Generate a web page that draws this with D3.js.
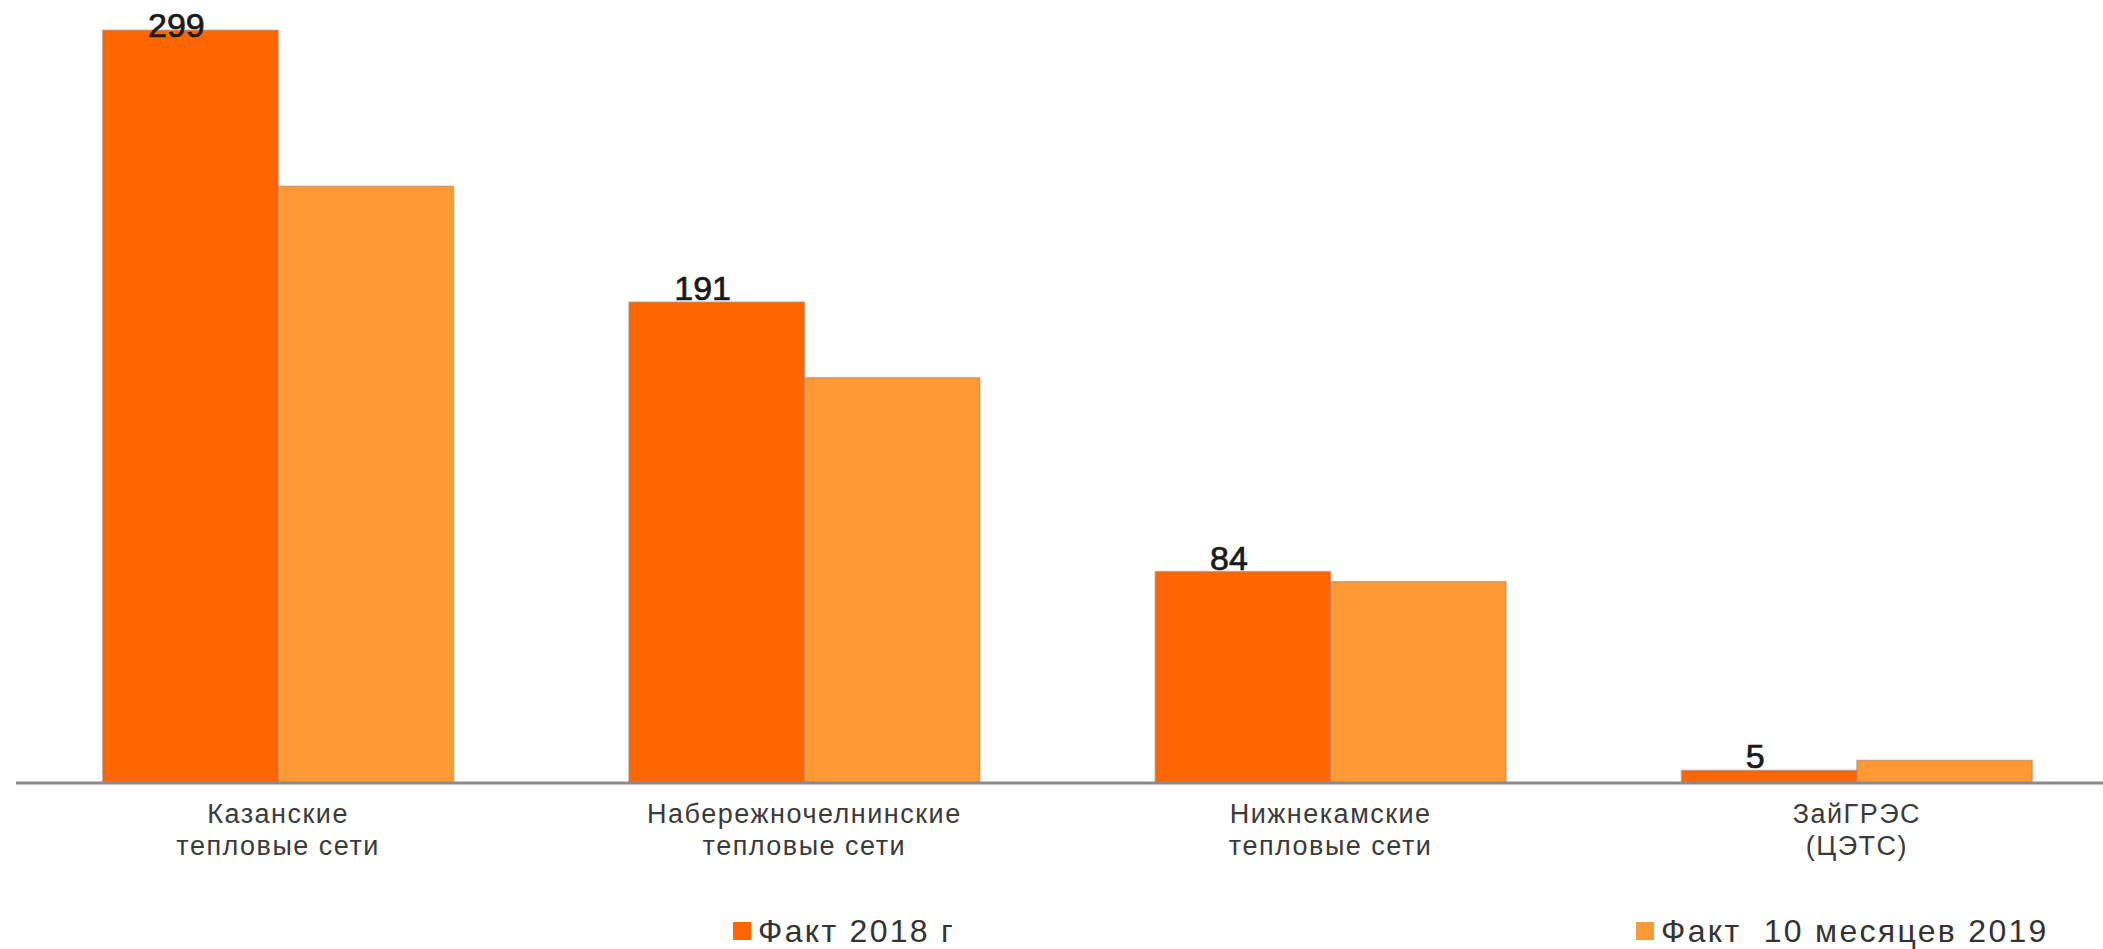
<!DOCTYPE html>
<html>
<head>
<meta charset="utf-8">
<script src="https://cdn.jsdelivr.net/npm/d3@7"></script>
<style>
  html, body { margin: 0; padding: 0; background: #fff; }
  svg { display: block; font-family: "Liberation Sans", Arial, sans-serif; }
  .cat-label { fill: #3a3a3a; font-size: 27px; letter-spacing: 1.5px; }
  .value-label { fill: #1a1a1a; font-size: 34px; stroke: #1a1a1a; stroke-width: 0.7px; }
  .legend-label { fill: #333; font-size: 32px; letter-spacing: 2.3px; }
</style>
</head>
<body>
<div id="chart"></div>
<script>
const width = 2103;
const height = 949;

// Data
const categories = ["Казанские", "Набережночелнинские", "Нижнекамские", "ЗайГРЭС"];
const categoryLines = [
    ["Казанские", "тепловые сети"],
    ["Набережночелнинские", "тепловые сети"],
    ["Нижнекамские", "тепловые сети"],
    ["ЗайГРЭС", "(ЦЭТС)"]
];
const seriesNames = ["Факт 2018 г", "Факт  10 месяцев 2019"];
const values2018 = [299, 191, 84, 5];
const values2019 = [237, 161, 80, 9];
const colors = ["#ff6600", "#ff9933"];

const baseY = 783;
const yMax = 311;

const svg = d3.select("#chart")
    .append("svg")
    .attr("width", width)
    .attr("height", height)
    .attr("viewBox", `0 0 ${width} ${height}`);

const x0 = d3.scaleBand()
    .domain(categories)
    .range([15, 2120])
    .paddingInner(1 / 3)
    .paddingOuter(1 / 6);

const x1 = d3.scaleBand()
    .domain([0, 1])
    .range([0, x0.bandwidth()]);

const y = d3.scaleLinear()
    .domain([0, yMax])
    .range([baseY, 0]);

const rows = categories.map((c, i) => ({
    cat: c,
    vals: [values2018[i], values2019[i]]
}));

// Bars
const groups = svg.selectAll(".group")
    .data(rows)
    .enter()
    .append("g")
    .attr("class", "group")
    .attr("transform", d => `translate(${x0(d.cat)},0)`);

groups.selectAll("rect")
    .data(d => d.vals.map((v, s) => ({ v, s })))
    .enter()
    .append("rect")
    .attr("x", d => x1(d.s))
    .attr("y", d => y(d.v))
    .attr("width", x1.bandwidth())
    .attr("height", d => y(0) - y(d.v))
    .attr("fill", d => colors[d.s])
    .attr("stroke", "#a08070")
    .attr("stroke-opacity", 0.5)
    .attr("stroke-width", 1.5);

// Baseline
svg.append("line")
    .attr("x1", 16)
    .attr("x2", width)
    .attr("y1", baseY)
    .attr("y2", baseY)
    .attr("stroke", "#8a8a8a")
    .attr("stroke-width", 3);

// Value labels for the 2018 series
svg.selectAll(".value-label")
    .data(rows)
    .enter()
    .append("text")
    .attr("class", "value-label")
    .attr("text-anchor", "middle")
    .attr("x", d => x0(d.cat) + x1(0) + x1.bandwidth() / 2 - 14)
    .attr("y", d => Math.max(y(d.vals[0]) - 2, 37))
    .text(d => d.vals[0]);

// Category labels
const catText = svg.selectAll(".cat-label")
    .data(categories)
    .enter()
    .append("text")
    .attr("class", "cat-label")
    .attr("text-anchor", "middle")
    .attr("x", d => x0(d) + x0.bandwidth() / 2)
    .attr("y", 823);

catText.selectAll("tspan")
    .data((d, i) => categoryLines[i])
    .enter()
    .append("tspan")
    .attr("x", function() { return this.parentNode.getAttribute("x"); })
    .attr("dy", (d, i) => i === 0 ? 0 : 32)
    .text(d => d);

// Legend
const legendX = [733, 1636];
const legend = svg.selectAll(".legend-item")
    .data(seriesNames)
    .enter()
    .append("g")
    .attr("class", "legend-item")
    .attr("transform", (d, i) => `translate(${legendX[i]},922)`);

legend.append("rect")
    .attr("width", 18)
    .attr("height", 18)
    .attr("fill", (d, i) => colors[i]);

legend.append("text")
    .attr("class", "legend-label")
    .attr("x", 25)
    .attr("y", 20)
    .attr("xml:space", "preserve")
    .style("white-space", "pre")
    .text(d => d);
</script>
</body>
</html>
